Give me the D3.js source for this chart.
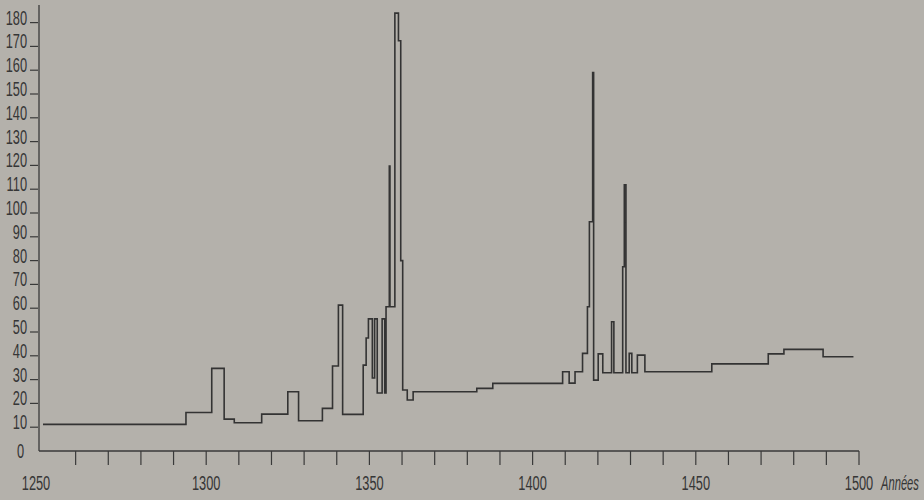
<!DOCTYPE html>
<html>
<head>
<meta charset="utf-8">
<script src="https://cdn.jsdelivr.net/npm/d3@7"></script>
<style>
  html, body { margin: 0; padding: 0; background: #b4b1ab; }
  svg { display: block; }
  text { font-family: "Liberation Sans", Arial, sans-serif; fill: #363636; }
</style>
</head>
<body>
<svg id="chart" width="924" height="500"></svg>
<script>
// Step start years and values (value holds until next start year)
const stepYears = [1250, 1293.8, 1301.7, 1305.5, 1308.6, 1317, 1325, 1328.3, 1335.6, 1338.7,
  1340.5, 1341.8, 1348.1, 1349.0, 1349.7, 1350.9, 1351.6, 1352.4, 1353.9, 1354.7,
  1355.1, 1356.1, 1356.3, 1357.8, 1358.9, 1359.6, 1360.2, 1361.6, 1363.4, 1382.9,
  1387.8, 1409.2, 1411.2, 1413.0, 1415.3, 1416.8, 1417.4, 1418.4, 1418.7, 1420.1,
  1421.5, 1424.2, 1424.9, 1427.6, 1428.1, 1428.6, 1429.6, 1430.4, 1432.1, 1434.4,
  1454.9, 1472.2, 1477.0, 1489.0];
const stepValues = [11.2, 16.2, 34.7, 13.4, 11.9, 15.5, 24.9, 12.7, 17.9, 35.7,
  61.3, 15.4, 36.1, 47.5, 55.5, 30.7, 55.5, 24.4, 55.5, 24.4,
  60.6, 119.7, 60.6, 184, 172.4, 80, 25.6, 21.4, 24.9, 26.3,
  28.4, 33.3, 28.5, 33.3, 41, 60.6, 96.3, 159, 29.8, 40.8,
  32.9, 54.3, 32.9, 77.4, 111.8, 32.9, 41, 32.9, 40.3, 33.3,
  36.6, 40.8, 42.7, 39.6];
const endYear = 1498.3;

const yTickValues = d3.range(10, 181, 10);
const yZeroLabel = "0";
const xMinorTicks = d3.range(1260, 1501, 10);
const xLabelYears = [1250, 1300, 1350, 1400, 1450, 1500];
const xAxisTitle = "Années";

const svg = d3.select("#chart");
const x = d3.scaleLinear().domain([1250, 1500]).range([43, 859]);
const y = d3.scaleLinear().domain([0, 180]).range([451, 22.6]);

const ink = "#3a3a3a";
const axisX = 39;
const fs = 20, sx = 0.64;

// axes lines
svg.append("line").attr("x1", axisX).attr("x2", axisX).attr("y1", 5).attr("y2", y(0))
  .attr("stroke", ink).attr("stroke-width", 1.3);
svg.append("line").attr("x1", axisX).attr("x2", x(1500)).attr("y1", y(0)).attr("y2", y(0))
  .attr("stroke", ink).attr("stroke-width", 1.3);

// y ticks and labels
const yg = svg.append("g");
yTickValues.forEach(v => {
  yg.append("line").attr("x1", 30).attr("x2", 38).attr("y1", y(v)).attr("y2", y(v))
    .attr("stroke", ink).attr("stroke-width", 1.2);
  yg.append("text").attr("text-anchor", "end").attr("font-size", fs)
    .attr("transform", `translate(27,${y(v) + 2}) scale(${sx},1)`).text(v);
});
yg.append("text").attr("text-anchor", "end").attr("font-size", fs)
  .attr("transform", `translate(24,${y(0) + 7}) scale(${sx},1)`).text(yZeroLabel);

// x ticks and labels
const xg = svg.append("g");
xMinorTicks.forEach(t => {
  xg.append("line").attr("x1", x(t)).attr("x2", x(t)).attr("y1", y(0)).attr("y2", y(0) + 14)
    .attr("stroke", ink).attr("stroke-width", 1.2);
});
xLabelYears.forEach(t => {
  const cx = t === 1250 ? x(t) - 7 : x(t);
  xg.append("text").attr("text-anchor", "middle").attr("font-size", fs)
    .attr("transform", `translate(${cx},490) scale(${sx},1)`).text(t);
});
xg.append("text").attr("text-anchor", "start").attr("font-size", fs).attr("font-style", "italic")
  .attr("transform", `translate(881,490) scale(0.56,1)`).text(xAxisTitle);

// step line
const pts = stepYears.map((yr, i) => [yr, stepValues[i]]);
pts.push([endYear, stepValues[stepValues.length - 1]]);
const line = d3.line().x(d => x(d[0])).y(d => y(d[1])).curve(d3.curveStepAfter);
svg.append("path").attr("d", line(pts)).attr("fill", "none")
  .attr("stroke", "#333").attr("stroke-width", 1.6).attr("stroke-linejoin", "miter");
</script>
</body>
</html>
